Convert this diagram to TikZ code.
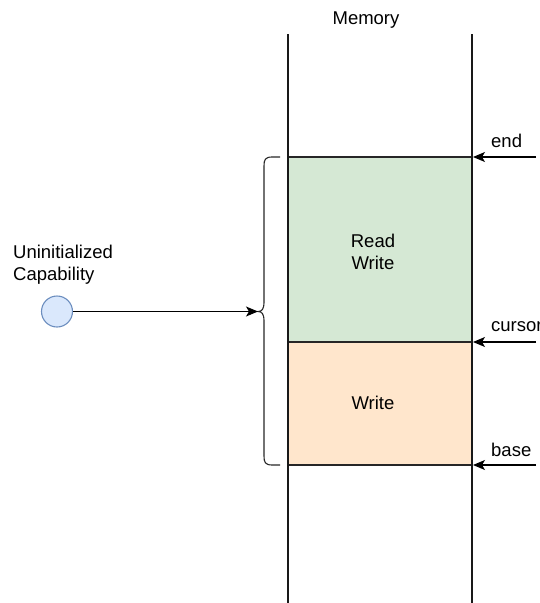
\documentclass[tikz,border=0pt]{standalone}
\usepackage{fontspec}
\setmainfont{Liberation Sans}
\usetikzlibrary{arrows.meta}
\definecolor{rwfill}{HTML}{D5E8D4}
\definecolor{wfill}{HTML}{FFE6CC}
\definecolor{capfill}{HTML}{DAE8FC}
\definecolor{capdraw}{HTML}{6C8EBF}
\tikzset{
  lbl/.style={font=\fontsize{18.5}{22}\selectfont, inner sep=0pt, text=black},
  region/.style={draw=black!85, line width=1.1pt},
  ptr/.style={draw=black, line width=1.1pt, -{Stealth[length=12pt,width=10pt,inset=3pt]}},
  wall/.style={draw=black!90, line width=1.3pt}
}
\begin{document}
\begin{tikzpicture}[x=1pt,y=-1pt]
\useasboundingbox (0,0) rectangle (540,603);
% memory walls
\coordinate (wl1) at (288,34);
\coordinate (wl2) at (288,603);
\coordinate (wr1) at (472,34);
\coordinate (wr2) at (472,603);
\node[lbl] (mem) at (366,20) {Memory};
% regions
\path[region, fill=rwfill] (288,157) rectangle (472,342);
\path[region, fill=wfill] (288,342) rectangle (472,465);
\draw[wall] (wl1) -- (wl2);
\draw[wall] (wr1) -- (wr2);
\node[lbl, align=center] (rw) at (373,252) {Read\\Write};
\node[lbl] (w) at (373,403) {Write};
% pointers
\coordinate (endT) at (473,157);
\coordinate (endS) at (536,157);
\coordinate (curT) at (473,342);
\coordinate (curS) at (536,342);
\coordinate (basT) at (473,465);
\coordinate (basS) at (536,465);
\draw[ptr] (endS) -- (endT);
\draw[ptr] (curS) -- (curT);
\draw[ptr] (basS) -- (basT);
\node[lbl, anchor=west] (endL) at (491,141) {end};
\node[lbl, anchor=west] (curL) at (491,327) {cursor};
\node[lbl, anchor=west] (basL) at (491,450) {base};
% capability
\node[lbl, align=left, anchor=north west] (capL) at (13,245) {Uninitialized\\Capability};
\node[circle, draw=capdraw, fill=capfill, line width=1.1pt, minimum size=31pt, inner sep=0pt] (cap) at (57,311.5) {};
% brace
\coordinate (tip) at (258,311.5);
\draw[line width=1.1pt, black!85] (280,157) -- (272,157) .. controls (265,157) and (264,160) .. (264,166)
  -- (264,302) .. controls (264,309) and (262,311.5) .. (tip)
  .. controls (262,311.5) and (264,314) .. (264,321)
  -- (264,456) .. controls (264,462) and (265,465) .. (272,465) -- (280,465);
\draw[ptr] (cap) -- (tip);
\end{tikzpicture}
\end{document}
